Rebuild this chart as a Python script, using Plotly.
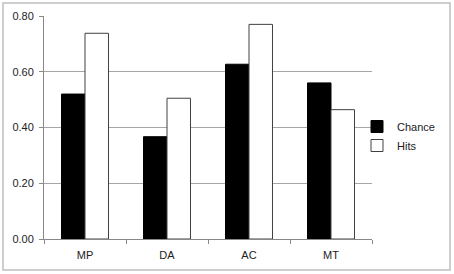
import plotly.graph_objects as go

categories = ["MP", "DA", "AC", "MT"]
chance = [0.52, 0.367, 0.627, 0.56]
hits = [0.738, 0.505, 0.770, 0.464]
y_ticks = [0.0, 0.2, 0.4, 0.6, 0.8]
y_tick_labels = ["0.00", "0.20", "0.40", "0.60", "0.80"]

W, H = 454, 274

fig = go.Figure()
fig.add_trace(go.Bar(name="Chance", x=categories, y=chance,
                     marker=dict(color="black", line=dict(color="black", width=1))))
fig.add_trace(go.Bar(name="Hits", x=categories, y=hits,
                     marker=dict(color="white", line=dict(color="#404040", width=1))))

fig.update_layout(
    width=W, height=H,
    margin=dict(l=0, r=0, t=0, b=0, autoexpand=False),
    paper_bgcolor="white", plot_bgcolor="white",
    barmode="group", bargap=0.427, bargroupgap=0,
    font=dict(family="Liberation Sans, Arial, sans-serif", size=11, color="#222"),
    showlegend=True,
    legend=dict(x=357 / W, y=(H - 136) / H, xanchor="left", yanchor="middle",
                font=dict(size=11), itemwidth=30, tracegroupgap=0,
                bgcolor="rgba(0,0,0,0)"),
    xaxis=dict(type="category", tickson="boundaries", ticks="outside", ticklen=4,
               tickcolor="#888", showline=True, linecolor="#888", linewidth=1,
               showgrid=False, tickfont=dict(size=11), automargin=False,
               ticklabelstandoff=6,
               domain=[44 / W, 372 / W]),
    yaxis=dict(range=[0, 0.8], tickvals=y_ticks, ticktext=y_tick_labels,
               ticks="outside", ticklen=4, tickcolor="#888",
               showline=True, linecolor="#888", linewidth=1,
               showgrid=True, gridcolor="#a6a6a6", gridwidth=1,
               zeroline=False, tickfont=dict(size=11), automargin=False,
               ticklabelstandoff=3,
               domain=[(H - 239) / H, (H - 16) / H]),
)
fig.add_shape(type="rect", xref="paper", yref="paper",
              x0=3 / W, x1=450 / W, y0=(H - 270) / H, y1=(H - 3) / H,
              line=dict(color="#bfbfbf", width=1.5), layer="below")

fig.write_html("out.html", config={"displayModeBar": False},
               post_script="document.body.style.margin='0px';")
